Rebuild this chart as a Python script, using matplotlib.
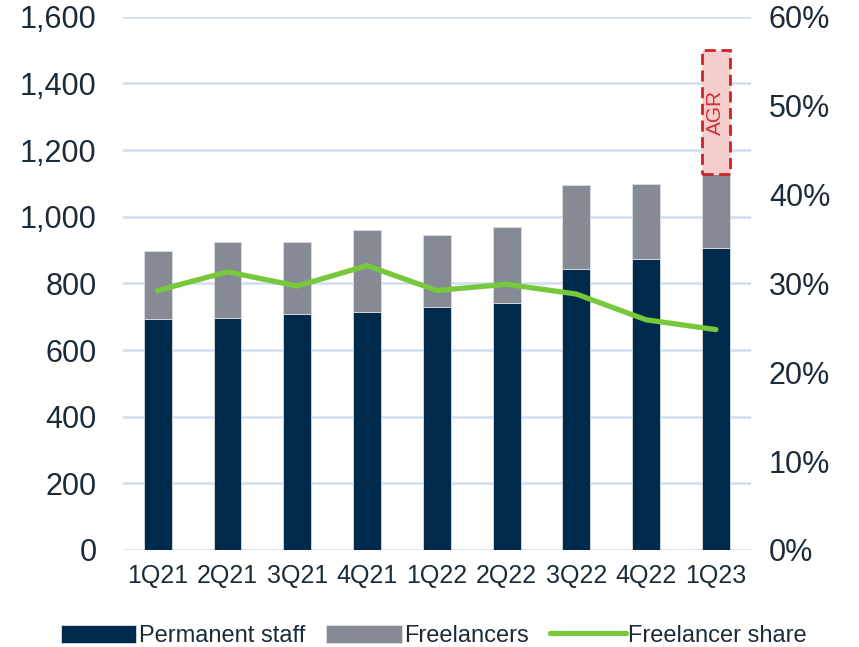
import numpy as np
import matplotlib
matplotlib.use("Agg")
import matplotlib.pyplot as plt

plt.rcParams['font.family'] = ['Liberation Sans', 'DejaVu Sans']

quarters = ['1Q21', '2Q21', '3Q21', '4Q21', '1Q22', '2Q22', '3Q22', '4Q22', '1Q23']
permanent = [693, 697, 708, 715, 730, 742, 844, 873, 906]
freelancers = [204, 226, 215, 244, 216, 228, 251, 225, 221]
share = [29.2, 31.3, 29.7, 32.0, 29.2, 29.9, 28.8, 25.9, 24.8]
agr_top = 1500  # AGR box on last quarter

navy = '#002a4c'
grey = '#858a95'
green = '#77c83a'
txt = '#1c2b3a'

fig = plt.figure(figsize=(8.59, 6.47), dpi=100)
ax = fig.add_axes([0.143, 0.150, 0.731, 0.824])
ax2 = ax.twinx()

x = np.arange(len(quarters))
w = 0.4
ax.bar(x, permanent, w, color=navy, edgecolor='#d9dde3', linewidth=0.6, zorder=3, label='Permanent staff')
ax.bar(x, freelancers, w, bottom=permanent, color=grey, edgecolor='#d9dde3', linewidth=0.6, zorder=3, label='Freelancers')

last_total = permanent[-1] + freelancers[-1]
ax.bar(x[-1], agr_top - last_total, w, bottom=last_total, color='#f6cdcd',
       edgecolor='#cc2229', linestyle=(0, (4, 2)), linewidth=2, zorder=4)
ax.text(x[-1], (agr_top + last_total) / 2, 'AGR', rotation=90, ha='center', va='center',
        color='#cc3333', fontsize=15, zorder=5)

ax2.plot(x, share, color=green, lw=3.8, solid_capstyle='round', zorder=5, label='Freelancer share')

ax.set_xlim(-0.5, len(quarters) - 0.5)
ax.set_ylim(0, 1600)
ax.set_yticks(range(0, 1601, 200))
ax.set_yticklabels([f'{v:,}' for v in range(0, 1601, 200)])
ax2.set_ylim(0, 60)
ax2.set_yticks(range(0, 61, 10))
ax2.set_yticklabels([f'{v}%' for v in range(0, 61, 10)])

ax.set_xticks(x)
ax.set_xticklabels(quarters)
ax.yaxis.grid(True, color='#cfdff0', lw=1.8, zorder=0)
ax.set_axisbelow(True)

for a in (ax, ax2):
    for s in a.spines.values():
        s.set_visible(False)
    a.tick_params(length=0, colors=txt)
ax.tick_params(axis='y', labelsize=22, pad=19)
ax2.tick_params(axis='y', labelsize=22, pad=13)
ax.tick_params(axis='x', labelsize=18, pad=10)

ax2.patch.set_visible(False)

h1, l1 = ax.get_legend_handles_labels()
h2, l2 = ax2.get_legend_handles_labels()
fig.legend(h1 + h2, l1 + l2, loc='lower center', bbox_to_anchor=(0.505, -0.033), ncol=3,
           frameon=False, fontsize=17, handlelength=3.2, handleheight=0.8,
           handletextpad=0.1, columnspacing=0.9, labelcolor=txt)

fig.savefig('out.png', dpi=100)
